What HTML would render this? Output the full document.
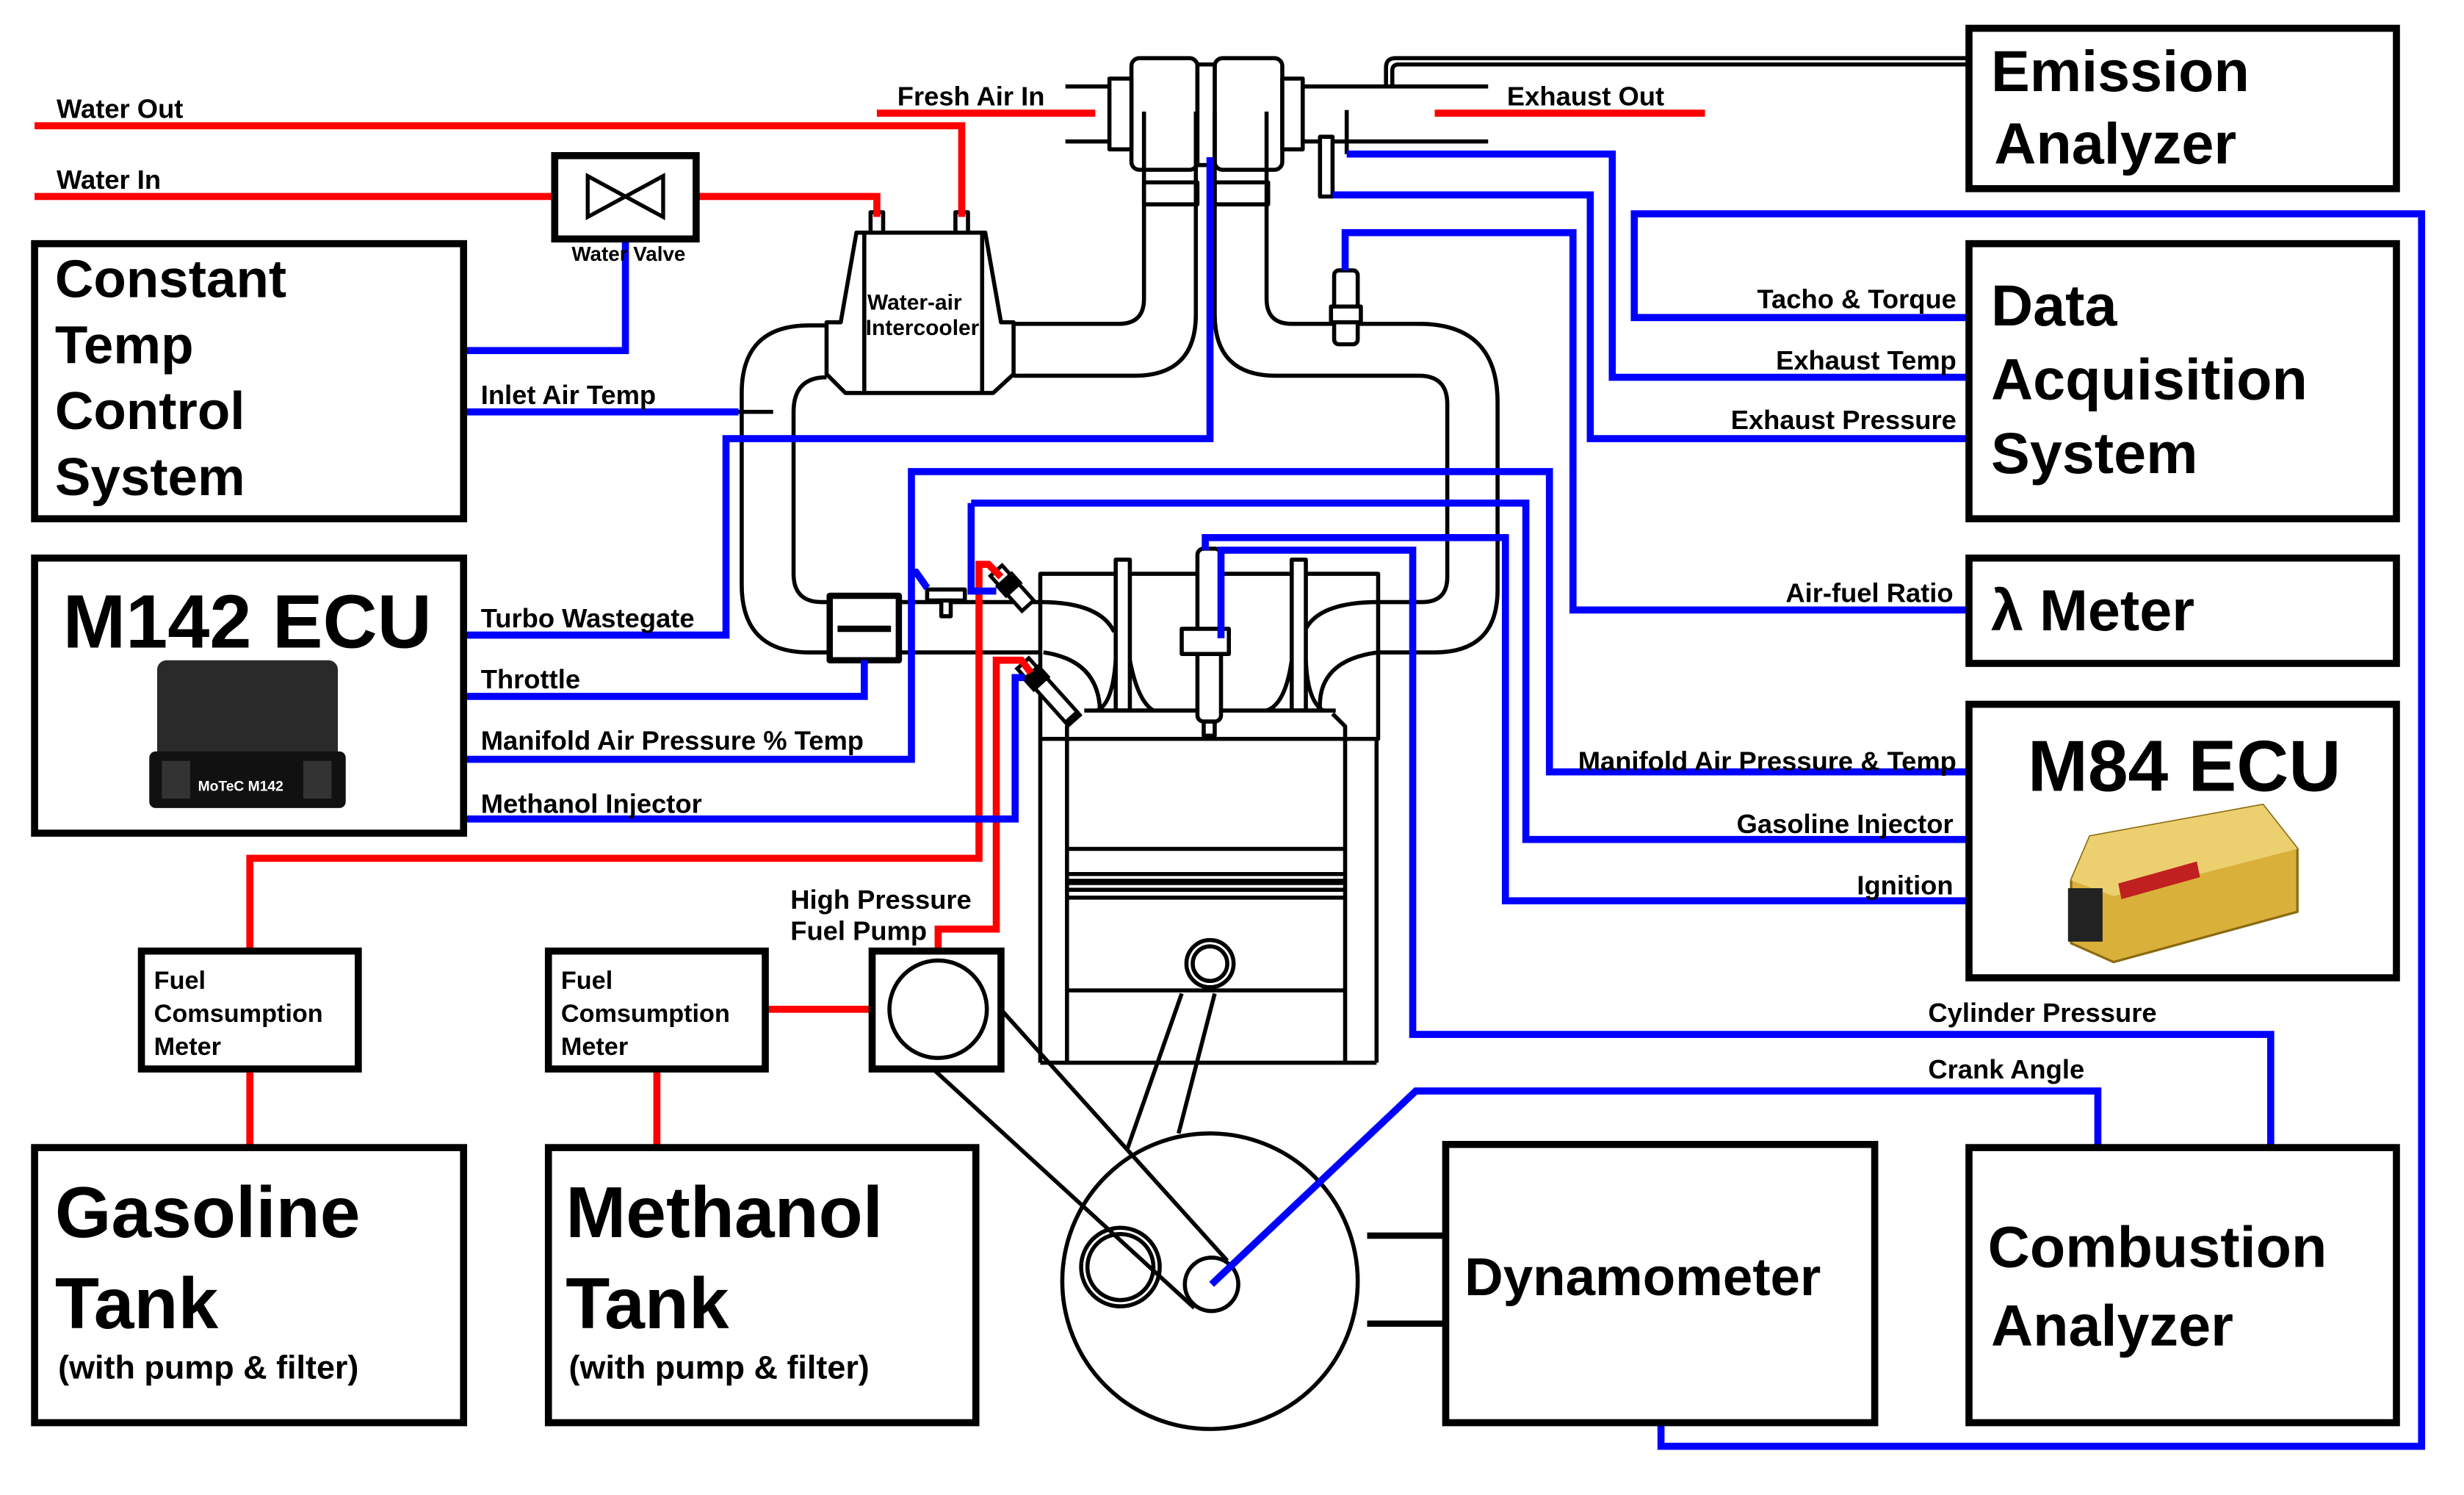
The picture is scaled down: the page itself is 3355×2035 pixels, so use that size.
<!DOCTYPE html>
<html><head><meta charset="utf-8"><style>
html,body{margin:0;padding:0;background:#fff}
svg{display:block}
text{font-family:"Liberation Sans",Arial,sans-serif;font-weight:bold;fill:#000}
</style></head><body>
<svg width="3355" height="2035" viewBox="0 0 1568 951" preserveAspectRatio="none" xmlns="http://www.w3.org/2000/svg">
<rect width="1568" height="951" fill="#fff"/>
<g fill="none" stroke="#000" stroke-width="2.6" stroke-linejoin="round">
 <rect x="720" y="37" width="42" height="71" rx="5" fill="#fff"/>
 <rect x="773" y="37" width="43" height="71" rx="5" fill="#fff"/>
 <rect x="762" y="41" width="11" height="64" fill="#fff"/>
 <rect x="706" y="50" width="14" height="45" fill="#fff"/>
 <rect x="816" y="50" width="13" height="45" fill="#fff"/>
 <line x1="678" y1="55" x2="706" y2="55"/><line x1="678" y1="90" x2="706" y2="90"/>
 <line x1="829" y1="55" x2="947" y2="55"/><line x1="829" y1="90" x2="947" y2="90"/>
 <path d="M882 55 V43 Q882 37 888 37 H1253"/><path d="M886 55 V45 Q886 41 890 41 H1253"/>
 <line x1="857" y1="70" x2="857" y2="98"/>
 <rect x="728" y="116" width="34" height="14" fill="#fff"/>
 <rect x="773" y="116" width="34" height="14" fill="#fff"/>
 <path d="M728 71 V190 Q728 206 712 206 H645"/>
 <path d="M761 71 V200 Q761 239 722 239 H645"/>
 <path d="M773 71 V200 Q773 239 812 239 H903 Q921 239 921 257 V367 Q921 383 905 383 H878"/>
 <path d="M806 71 V190 Q806 206 822 206 H903 Q953 206 953 256 V375 Q953 415 913 415 H878"/>
 <polygon points="545,148 627,148 637,205 645,205 645,238 632,250 538,250 526,238 526,205 535,205" fill="#fff"/>
 <line x1="550" y1="148" x2="550" y2="250"/><line x1="625" y1="148" x2="625" y2="250"/>
 <rect x="554" y="135" width="8" height="13" fill="#fff"/><rect x="608" y="135" width="8" height="13" fill="#fff"/>
 <path d="M526 207 H515 Q472 207 472 250 V372 Q472 415 515 415 H527"/>
 <path d="M526 240 Q505 240 505 262 V365 Q505 383 523 383 H527"/>
 <line x1="573" y1="383" x2="665" y2="383"/><line x1="573" y1="415" x2="665" y2="415"/>
 <line x1="470" y1="262" x2="492" y2="262"/>
 <rect x="528" y="379" width="44" height="41" stroke-width="4" fill="#fff"/>
 <line x1="533" y1="400" x2="567" y2="400" stroke-width="4"/>
 <rect x="590" y="375" width="24" height="7" fill="#fff"/><rect x="599" y="382" width="6" height="10" fill="#fff"/>
 <rect x="662" y="365" width="215" height="105" fill="#fff"/>
 <path d="M662 383 Q700 383 709 402"/><path d="M664 415 Q699 420 700 452"/>
 <path d="M877 383 Q838 383 830 402"/><path d="M877 415 Q838 420 840 452"/>
 <rect x="710" y="356" width="9" height="96" fill="#fff"/>
 <path d="M710 420 Q708 448 698 452 H734 Q724 446 719 420"/>
 <rect x="822" y="356" width="9" height="96" fill="#fff"/>
 <path d="M822 420 Q818 448 806 452 H842 Q832 446 831 420"/>
 <line x1="690" y1="452" x2="850" y2="452"/>
 <rect x="762" y="349" width="15" height="110" rx="4" fill="#fff"/>
 <rect x="752" y="400" width="30" height="16" fill="#fff"/>
 <rect x="766" y="459" width="7" height="9" fill="#fff"/>
 <line x1="662" y1="470" x2="662" y2="676"/><line x1="876" y1="470" x2="876" y2="676"/>
 <line x1="662" y1="676" x2="876" y2="676"/>
 <path d="M679 676 V462 L688 454"/><path d="M856 676 V462 L848 454"/>
 <line x1="679" y1="540" x2="856" y2="540"/>
 <line x1="679" y1="556" x2="856" y2="556"/>
 <line x1="679" y1="561" x2="856" y2="561" stroke-width="4"/>
 <line x1="679" y1="566" x2="856" y2="566"/>
 <line x1="679" y1="571" x2="856" y2="571"/>
 <line x1="679" y1="630" x2="856" y2="630"/>
 <circle cx="770" cy="613" r="15"/><circle cx="770" cy="613" r="11"/>
 <line x1="752" y1="632" x2="717" y2="732"/><line x1="773" y1="632" x2="750" y2="721"/>
 <circle cx="770" cy="815" r="94"/>
 <circle cx="713" cy="806" r="25"/><circle cx="713" cy="806" r="21"/>
 <circle cx="771" cy="817" r="17" fill="#fff"/>
 <line x1="617" y1="620" x2="781" y2="802"/><line x1="585" y1="672" x2="760" y2="832"/>
 <line x1="870" y1="786" x2="920" y2="786" stroke-width="4"/><line x1="870" y1="842" x2="920" y2="842" stroke-width="4"/>
 <rect x="849" y="172" width="15" height="47" rx="3" fill="#fff"/><rect x="847" y="195" width="19" height="10" fill="#fff"/>
 <rect x="840" y="87" width="8" height="38" fill="#fff"/>
</g>
<g stroke="#000" stroke-width="2.4" fill="#fff">
 <g transform="translate(634,363) rotate(48)"><rect x="0" y="-5" width="30" height="10"/><rect x="8" y="-6" width="8" height="12" fill="#000"/></g>
 <g transform="translate(651,422) rotate(48)"><rect x="0" y="-5" width="46" height="10"/><rect x="8" y="-6" width="9" height="12" fill="#000"/></g>
</g>
<g fill="none" stroke="#f00" stroke-width="4.5" stroke-linejoin="miter">
 <path d="M22 80 H612 V138"/>
 <path d="M22 125 H353"/><path d="M443 125 H558 V138"/>
 <path d="M558 72 H697"/><path d="M913 72 H1085"/>
 <path d="M159 605 V546 H623 V359 H629 L637 367"/>
 <path d="M159 680 V730"/><path d="M418 680 V730"/><path d="M487 642 H555"/>
 <path d="M597 605 V591 H634 V420 H650 L656 428"/>
</g>
<g fill="none" stroke="#00f" stroke-width="4.5" stroke-linejoin="miter">
 <path d="M295 223 H398 V152"/>
 <path d="M295 262 H470"/>
 <path d="M295 404 H462 V279 H770 V100"/>
 <path d="M295 443 H550 V420"/>
 <path d="M295 483 H580 V300 H986 V491 H1253"/>
 <path d="M580 364 H583 L590 374"/>
 <path d="M295 521 H646 V431 H652"/>
 <path d="M618 320 V376 H634"/>
 <path d="M1253 534 H971 V320 H618"/>
 <path d="M1253 573 H958 V342 H767 V350"/>
 <path d="M777 406 V350 H899 V658 H1445 V730"/>
 <path d="M771 817 L901 694 H1335 V730"/>
 <path d="M1253 388 H1001 V148 H856 V172"/>
 <path d="M1253 279 H1012 V124 H848"/>
 <path d="M1253 240 H1026 V98 H857"/>
 <path d="M1253 202 H1040 V136 H1541 V920 H1057 V905"/>
</g>
<rect x="353" y="99" width="90" height="53" fill="#fff" stroke="#000" stroke-width="4.5"/>
<polygon points="374,112 398,125 374,138" fill="#fff" stroke="#000" stroke-width="2.5"/>
<polygon points="422,112 398,125 422,138" fill="#fff" stroke="#000" stroke-width="2.5"/>
<g fill="#fff" stroke="#000" stroke-width="4.5">
 <rect x="1253" y="18" width="272" height="102"/>
 <rect x="1253" y="155" width="272" height="175"/>
 <rect x="1253" y="355" width="272" height="67"/>
 <rect x="1253" y="448" width="272" height="174"/>
 <rect x="1253" y="730" width="272" height="175"/>
 <rect x="920" y="728" width="273" height="177"/>
 <rect x="22" y="155" width="273" height="175"/>
 <rect x="22" y="355" width="273" height="175"/>
 <rect x="90" y="605" width="138" height="75"/>
 <rect x="349" y="605" width="138" height="75"/>
 <rect x="22" y="730" width="273" height="175"/>
 <rect x="349" y="730" width="272" height="175"/>
 <rect x="555" y="605" width="82" height="75"/>
</g>
<circle cx="597" cy="642" r="31" fill="none" stroke="#000" stroke-width="2.6"/>
<g>
 <rect x="100" y="420" width="115" height="76" rx="6" fill="#2a2a2a"/>
 <rect x="95" y="478" width="125" height="36" rx="4" fill="#111"/>
 <rect x="103" y="484" width="18" height="24" fill="#333"/><rect x="193" y="484" width="18" height="24" fill="#333"/>
 <text x="126" y="503" font-size="9" style="fill:#fff">MoTeC M142</text>
 <polygon points="1318,560 1330,532 1440,512 1462,540 1462,580 1345,612 1318,600" fill="#d9b03a" stroke="#8a6a10" stroke-width="1.5"/>
 <polygon points="1318,560 1345,570 1462,540 1440,512 1330,532" fill="#ecd070"/>
 <rect x="1316" y="565" width="22" height="34" fill="#222"/>
 <polygon points="1348,562 1398,548 1400,558 1350,572" fill="#c02020"/>
</g>
<g font-size="37">
 <text x="1267" y="58">Emission</text><text x="1269" y="104">Analyzer</text>
 <text x="1267" y="207">Data</text><text x="1267" y="254">Acquisition</text><text x="1267" y="301">System</text>
 <text x="1267" y="401">λ Meter</text>
 <text x="1265" y="806">Combustion</text><text x="1267" y="856">Analyzer</text>
</g>
<text x="1390" y="503" font-size="46" text-anchor="middle">M84 ECU</text>
<text x="932" y="824" font-size="34">Dynamometer</text>
<g font-size="34">
 <text x="35" y="189">Constant</text><text x="35" y="231">Temp</text><text x="35" y="273">Control</text><text x="35" y="315">System</text>
</g>
<text x="40" y="412" font-size="48">M142 ECU</text>
<g font-size="46"><text x="35" y="787">Gasoline</text><text x="35" y="845">Tank</text><text x="360" y="787">Methanol</text><text x="360" y="845">Tank</text></g>
<g font-size="21"><text x="37" y="877">(with pump &amp; filter)</text><text x="362" y="877">(with pump &amp; filter)</text></g>
<g font-size="16"><text x="98" y="629">Fuel</text><text x="98" y="650">Comsumption</text><text x="98" y="671">Meter</text>
<text x="357" y="629">Fuel</text><text x="357" y="650">Comsumption</text><text x="357" y="671">Meter</text></g>
<g font-size="17">
 <text x="36" y="75">Water Out</text><text x="36" y="120">Water In</text>
 <text x="571" y="67">Fresh Air In</text><text x="959" y="67">Exhaust Out</text>
 <text x="306" y="257">Inlet Air Temp</text>
 <text x="306" y="399">Turbo Wastegate</text><text x="306" y="438">Throttle</text>
 <text x="306" y="477">Manifold Air Pressure % Temp</text><text x="306" y="517">Methanol Injector</text>
 <text x="503" y="578">High Pressure</text><text x="503" y="598">Fuel Pump</text>
 <g text-anchor="end">
  <text x="1245" y="196">Tacho &amp; Torque</text><text x="1245" y="235">Exhaust Temp</text>
  <text x="1245" y="273">Exhaust Pressure</text><text x="1243" y="383">Air-fuel Ratio</text>
  <text x="1245" y="490">Manifold Air Pressure &amp; Temp</text>
  <text x="1243" y="530">Gasoline Injector</text><text x="1243" y="569">Ignition</text>
 </g>
 <text x="1227" y="650">Cylinder Pressure</text><text x="1227" y="686">Crank Angle</text>
</g>
<text x="400" y="166" font-size="13" text-anchor="middle">Water Valve</text>
<text x="582" y="197" font-size="14" text-anchor="middle">Water-air</text>
<text x="587" y="213" font-size="14" text-anchor="middle">Intercooler</text>
</svg>
</body></html>
